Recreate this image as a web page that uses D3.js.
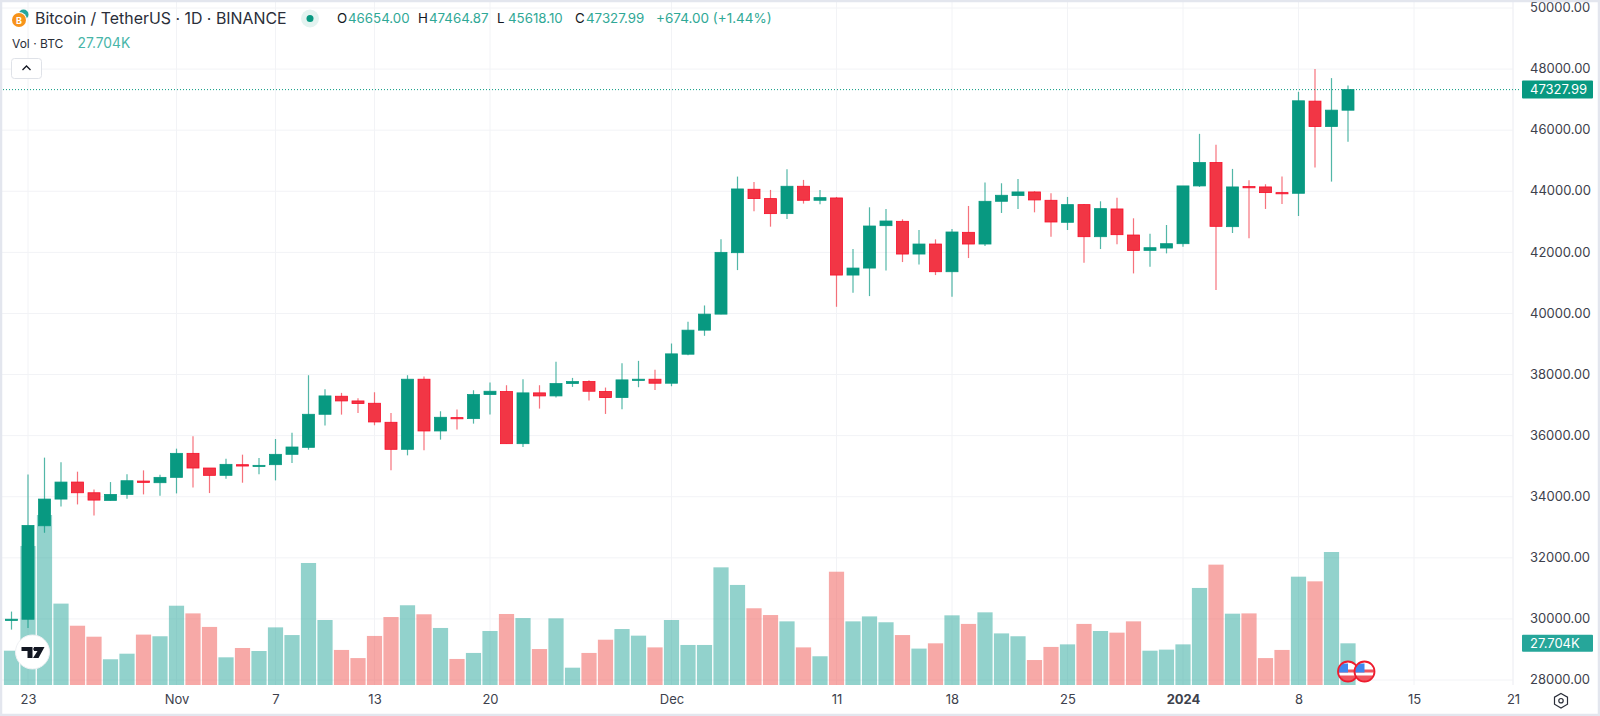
<!DOCTYPE html>
<html>
<head>
<meta charset="utf-8">
<title>BTCUSDT 1D</title>
<script src="https://cdn.jsdelivr.net/npm/d3@7"></script>
<style>
    html, body { margin: 0; padding: 0; background: #fff; overflow: hidden; }
    svg { display: block; font-family: Inter, "Open Sans", sans-serif; }
</style>
</head>
<body>
<svg id="chart" width="1600" height="716"></svg>
<script>
// Candle data, one entry per day starting at 22 Oct 2023
const opens = [29970, 29989, 33049, 33923, 34480, 34130, 33880, 34076, 34513, 34459, 34634, 35420, 34940, 34700, 35049, 35005, 35049, 35388, 35617, 36699, 37290, 37136, 37060, 36437, 35552, 37847, 36153, 36590, 36557, 37344, 37443, 35737, 37400, 37300, 37705, 37770, 37443, 37246, 37825, 37847, 37716, 38666, 39453, 39978, 41989, 44066, 43760, 43268, 44164, 43705, 43781, 41257, 41486, 42874, 43016, 41945, 42273, 41366, 42656, 42273, 43672, 43858, 43978, 43705, 42984, 43563, 42513, 43421, 42568, 42065, 42142, 42284, 44175, 44940, 42841, 44153, 44142, 43956, 43934, 46951, 46120, 46654];
const highs = [30240, 34730, 35280, 35125, 34820, 34240, 34480, 34732, 34863, 34721, 35574, 35978, 34940, 35246, 35377, 35268, 35890, 36098, 37978, 37519, 37400, 37224, 37420, 36743, 37978, 37934, 36798, 36852, 37486, 37738, 37650, 37847, 37650, 38415, 37890, 37814, 37574, 38372, 38448, 38153, 39016, 39727, 40262, 42426, 44481, 44306, 44044, 44721, 44372, 44044, 43814, 42109, 43475, 43421, 43082, 42732, 42426, 42765, 43519, 44284, 44262, 44404, 44000, 43934, 43814, 43585, 43672, 43792, 43115, 42612, 42896, 44175, 45880, 45519, 44732, 44361, 44230, 44481, 47257, 48000, 47705, 47464.87];
const lows = [29650, 29700, 32820, 33683, 33748, 33388, 33870, 33934, 34076, 34032, 34109, 34306, 34120, 34590, 34459, 34732, 34535, 35104, 35540, 36328, 36688, 36743, 36339, 34863, 35355, 35519, 35869, 36197, 36393, 36688, 35737, 35628, 36885, 37246, 37596, 37147, 36710, 36863, 37585, 37497, 37617, 38634, 39268, 39978, 41420, 43344, 42841, 43093, 43596, 43574, 40218, 40677, 40568, 41410, 41683, 41606, 41257, 40546, 41814, 42208, 43290, 43421, 43311, 42513, 42732, 41661, 42109, 42262, 41311, 41530, 41967, 42186, 44142, 40765, 42634, 42459, 43421, 43585, 43191, 44776, 44317, 45618.10];
const closes = [29990, 33060, 33923, 34480, 34130, 33890, 34076, 34524, 34470, 34634, 35420, 34940, 34700, 35060, 35005, 35027, 35388, 35628, 36699, 37300, 37136, 37050, 36448, 35552, 37847, 36153, 36601, 36557, 37344, 37453, 35737, 37400, 37300, 37705, 37770, 37453, 37246, 37825, 37847, 37716, 38677, 39453, 39978, 42000, 44076, 43760, 43268, 44164, 43705, 43792, 41257, 41486, 42863, 43027, 41945, 42273, 41366, 42667, 42273, 43672, 43869, 43978, 43716, 42994, 43563, 42513, 43432, 42579, 42065, 42153, 42284, 44175, 44940, 42852, 44142, 44142, 43956, 43934, 46962, 46120, 46656, 47327.99];
// Volume in thousands of BTC
const volumes = [22.8, 92.4, 113, 54.1, 39.4, 32.1, 17.1, 20.8, 33.5, 32.4, 52.7, 47.6, 38.6, 18.4, 24.6, 22.6, 38.3, 33.2, 81.1, 43.2, 23.3, 17.9, 32.6, 45.2, 53, 47, 37.9, 17.3, 21.3, 35.9, 47.2, 44.5, 23.9, 44.3, 11.5, 21.3, 30.1, 37.2, 32.8, 25, 43.2, 26.6, 26.6, 78.2, 66.5, 51, 46.5, 42.3, 25, 19.1, 75.3, 42.3, 45.6, 41.7, 33.2, 24.2, 27.7, 46.3, 40.6, 48.3, 34.3, 32.4, 16.6, 25.3, 27, 40.6, 35.9, 34.8, 42.3, 22.8, 23.5, 27, 64.5, 80, 47.4, 47.6, 17.9, 23.3, 72, 68.9, 88.4, 27.704];

// Axis ticks (x ticks are day offsets from the first candle)
const timeTicks = [1, 10, 16, 22, 29, 40, 50, 57, 64, 71, 78, 85, 91];
const timeLabels = ["23", "Nov", "7", "13", "20", "Dec", "11", "18", "25", "2024", "8", "15", "21"];
const priceTicks = [28000, 30000, 32000, 34000, 36000, 38000, 40000, 42000, 44000, 46000, 48000, 50000];

const lastPrice = 47327.99;
const lastVolume = 27.704;
const legendValues = [["O", "46654.00", 337], ["H", "47464.87", 418], ["L", "45618.10", 497], ["C", "47327.99", 575]];

const GREEN = "#089981";
const RED = "#f23645";

const svg = d3.select("#chart");
const width = +svg.attr("width");
const height = +svg.attr("height");
const plotRight = 1513;
const plotBottom = 685;

// Scales
const x = d3.scaleLinear().domain([0, 91]).range([11.5, plotRight]);
const y = d3.scaleLinear().domain([28000, 50000]).range([680, 8]);
const yVol = d3.scaleLinear().domain([0, 113]).range([plotBottom, 515]);

// Grid
const grid = svg.append("g");
grid.selectAll(".hgrid")
    .data(priceTicks)
    .enter().append("line")
    .attr("x1", 0)
    .attr("x2", plotRight)
    .attr("y1", d => y(d))
    .attr("y2", d => y(d))
    .attr("stroke", "#f2f3f6");
grid.selectAll(".vgrid")
    .data(timeTicks)
    .enter().append("line")
    .attr("x1", d => x(d))
    .attr("x2", d => x(d))
    .attr("y1", 0)
    .attr("y2", plotBottom)
    .attr("stroke", "#f2f3f6");
grid.append("line")
    .attr("x1", plotRight).attr("x2", plotRight)
    .attr("y1", 0).attr("y2", plotBottom)
    .attr("stroke", "#f0f1f5");

// Volume bars
svg.append("g").selectAll("rect")
    .data(volumes)
    .enter().append("rect")
    .attr("x", (d, i) => x(i) - 7.6)
    .attr("width", 15.2)
    .attr("y", d => yVol(d))
    .attr("height", d => plotBottom - yVol(d))
    .attr("fill", (d, i) => closes[i] >= opens[i] ? "#26a69a" : "#ef5350")
    .attr("fill-opacity", 0.5);

// TradingView badge
const badge = svg.append("g").attr("transform", "translate(32.5,652)");
badge.append("circle").attr("r", 17).attr("fill", "#fff").attr("stroke", "#eef0f3");
badge.append("path")
    .attr("d", "M-11,-5 H0 V6 H-5 V-1 H-11 Z M1.5,-5 H12 L6,6 H0.5 L5,-1 H1.5 Z")
    .attr("fill", "#131722");
badge.append("circle").attr("cx", 2.5).attr("cy", -3).attr("r", 1.8).attr("fill", "#131722");

// Candles
const candles = svg.append("g").selectAll("g")
    .data(closes)
    .enter().append("g")
    .attr("fill", (d, i) => d >= opens[i] ? GREEN : RED)
    .attr("stroke", (d, i) => d >= opens[i] ? GREEN : RED);
candles.append("line")
    .attr("x1", (d, i) => x(i))
    .attr("x2", (d, i) => x(i))
    .attr("y1", (d, i) => y(highs[i]))
    .attr("y2", (d, i) => y(lows[i]))
    .attr("stroke-width", 1.2)
    .attr("stroke-opacity", 0.7);
candles.append("rect")
    .attr("x", (d, i) => x(i) - 6)
    .attr("width", 12)
    .attr("y", (d, i) => y(Math.max(d, opens[i])))
    .attr("height", (d, i) => Math.max(1.2, Math.abs(y(d) - y(opens[i]))))
    .attr("stroke", (d, i) => d >= opens[i] ? GREEN : "#f7102a")
    .attr("stroke-width", 0.8);

// Last price line
svg.append("line")
    .attr("x1", 0)
    .attr("x2", plotRight + 8)
    .attr("y1", y(lastPrice))
    .attr("y2", y(lastPrice))
    .attr("stroke", GREEN)
    .attr("stroke-dasharray", "1 2");

// Price axis
const priceAxis = d3.axisRight(y)
    .tickValues(priceTicks)
    .tickSize(0)
    .tickPadding(0)
    .tickFormat(d3.format(".2f"));
svg.append("g")
    .attr("transform", `translate(1530,-0.5)`)
    .call(priceAxis)
    .call(g => g.select(".domain").remove())
    .selectAll("text")
    .attr("font-size", 13)
    .attr("font-family", "Inter")
    .attr("fill", "#3d414c");

// Time axis
const timeAxis = d3.axisBottom(x)
    .tickValues(timeTicks)
    .tickSize(0)
    .tickPadding(0)
    .tickFormat((d, i) => timeLabels[i]);
svg.append("g")
    .attr("transform", "translate(0,694.5)")
    .call(timeAxis)
    .call(g => g.select(".domain").remove())
    .selectAll("text")
    .attr("font-size", 13)
    .attr("font-family", "Inter")
    .attr("font-weight", d => d === 71 ? 700 : 400)
    .attr("fill", "#3d414c");

// Value tags on the price axis
function priceTag(top, h, fill, label) {
    svg.append("rect")
        .attr("x", 1522).attr("y", top)
        .attr("width", 71).attr("height", h)
        .attr("rx", 1)
        .attr("fill", fill);
    svg.append("text")
        .attr("x", 1530).attr("y", top + h / 2 + 4.5)
        .attr("font-size", 13)
        .attr("fill", "#fff")
        .text(label);
}
priceTag(y(lastPrice) - 9, 18, GREEN, d3.format(".2f")(lastPrice));
priceTag(yVol(lastVolume) - 8.5, 17, "#26a69a", lastVolume.toFixed(3) + "K");

// Header legend
svg.append("text")
    .attr("x", 35).attr("y", 24)
    .attr("font-size", 15.9)
    .attr("fill", "#2a2e39")
    .text("Bitcoin / TetherUS · 1D · BINANCE");
legendValues.forEach(([letter, value, px]) => {
    svg.append("text").attr("x", px).attr("y", 23).attr("font-size", 13.3).attr("fill", "#131722").text(letter);
    svg.append("text").attr("x", px + 11).attr("y", 23).attr("font-size", 13.3).attr("fill", "#2fa896").text(value);
});
svg.append("text").attr("x", 656).attr("y", 23).attr("font-size", 13.5).attr("fill", "#2fa896").text("+674.00 (+1.44%)");
svg.append("text").attr("x", 12).attr("y", 48).attr("font-size", 12).attr("fill", "#2a2e39").text("Vol · BTC");
svg.append("text").attr("x", 77.5).attr("y", 48).attr("font-size", 13.8).attr("fill", "#48b5a8").text("27.704K");

// Market status dot
svg.append("circle").attr("cx", 310).attr("cy", 18.5).attr("r", 9).attr("fill", "#e3f3f0");
svg.append("circle").attr("cx", 310).attr("cy", 18.5).attr("r", 3.5).attr("fill", GREEN);

// Symbol icon
svg.append("circle").attr("cx", 23.5).attr("cy", 14.5).attr("r", 5).attr("fill", "#26a69a");
svg.append("circle").attr("cx", 19).attr("cy", 20).attr("r", 8).attr("fill", "#fff");
svg.append("circle").attr("cx", 19).attr("cy", 20).attr("r", 7).attr("fill", "#f7931a");
svg.append("text").attr("x", 19).attr("y", 23.5).attr("text-anchor", "middle")
    .attr("font-size", 9).attr("font-weight", 700).attr("fill", "#fff").text("B");

// Collapse button
svg.append("rect")
    .attr("x", 11.5).attr("y", 58.5).attr("width", 30).attr("height", 20).attr("rx", 3)
    .attr("fill", "#fff").attr("stroke", "#dfe2e8");
svg.append("path").attr("d", "M22.5,70 L26.5,66 L30.5,70")
    .attr("fill", "none").attr("stroke", "#131722").attr("stroke-width", 1.3);

// US event flags under the last candle
[81, 82].forEach((day, n) => {
    const flag = svg.append("g").attr("transform", `translate(${x(day)},671.5)`);
    const clipId = "flag-clip-" + n;
    flag.append("clipPath").attr("id", clipId).append("circle").attr("r", 9.5);
    const inner = flag.append("g").attr("clip-path", `url(#${clipId})`);
    inner.append("rect").attr("x", -10).attr("y", -10).attr("width", 20).attr("height", 20).attr("fill", "#fff");
    inner.append("rect").attr("x", -10).attr("y", -2).attr("width", 20).attr("height", 3).attr("fill", "#f0555f");
    inner.append("rect").attr("x", -10).attr("y", 4).attr("width", 20).attr("height", 6).attr("fill", "#f0555f");
    inner.append("rect").attr("x", -10).attr("y", -8).attr("width", 10).attr("height", 9).attr("fill", "#3f87ee");
    flag.append("circle").attr("r", 10).attr("fill", "none").attr("stroke", "#ee1c2e").attr("stroke-width", 1.8);
});

// Settings icon
svg.append("path")
    .attr("d", "M1561,693.5 L1567.5,697.2 V704.2 L1561,708 L1554.5,704.2 V697.2 Z")
    .attr("fill", "none").attr("stroke", "#2a2e39").attr("stroke-width", 1.2);
svg.append("circle").attr("cx", 1561).attr("cy", 700.7).attr("r", 2.2)
    .attr("fill", "none").attr("stroke", "#2a2e39").attr("stroke-width", 1.2);

// Frame
svg.append("rect")
    .attr("x", 1).attr("y", 1)
    .attr("width", width - 2).attr("height", height - 2)
    .attr("fill", "none").attr("stroke", "#e3e6ee").attr("stroke-width", 2.5);
</script>
</body>
</html>
